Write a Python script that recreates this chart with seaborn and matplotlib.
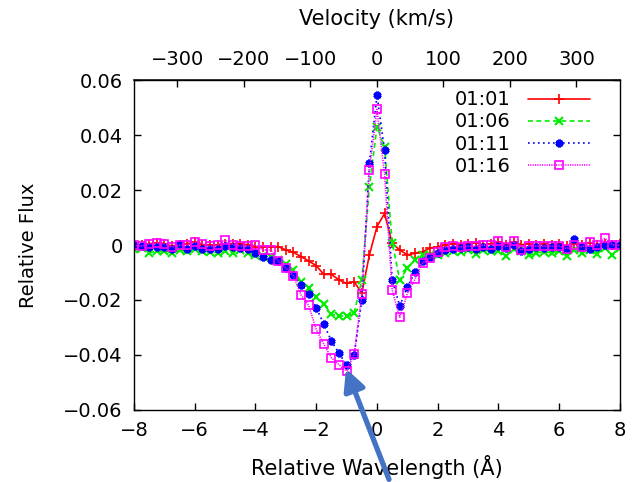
import numpy as np
import pandas as pd
import seaborn as sns
import matplotlib
matplotlib.use("Agg")
import matplotlib.pyplot as plt
from matplotlib.ticker import FuncFormatter
from matplotlib.patches import FancyArrowPatch

# relative wavelength grid (Angstrom)
wavelength = [
    -8.0, -7.75, -7.5, -7.25, -7.0, -6.75, -6.5, -6.25,
    -6.0, -5.75, -5.5, -5.25, -5.0, -4.75, -4.5, -4.25,
    -4.0, -3.75, -3.5, -3.25, -3.0, -2.75, -2.5, -2.25,
    -2.0, -1.75, -1.5, -1.25, -1.0, -0.75, -0.5, -0.25,
    0.0, 0.25, 0.5, 0.75, 1.0, 1.25, 1.5, 1.75,
    2.0, 2.25, 2.5, 2.75, 3.0, 3.25, 3.5, 3.75,
    4.0, 4.25, 4.5, 4.75, 5.0, 5.25, 5.5, 5.75,
    6.0, 6.25, 6.5, 6.75, 7.0, 7.25, 7.5, 7.75,
    8.0,
]

flux_0101 = [
    0.0001, 0.0001, 0.0005, 0.0008, 0.0005, -0.0004, 0.0001, 0.0005,
    0.0011, 0.0001, -0.0001, 0.0001, 0.0005, 0.0005, 0.0005, 0.0001,
    -0.0006, -0.0006, -0.0006, -0.0006, -0.0018, -0.0027, -0.0042, -0.0058,
    -0.0075, -0.0107, -0.0107, -0.0127, -0.0140, -0.0133, -0.0176, -0.0036,
    0.0067, 0.0115, 0.0006, -0.0018, -0.0036, -0.0030, -0.0024, -0.0012,
    -0.0006, 0.0000, 0.0005, 0.0001, 0.0005, 0.0008, 0.0001, 0.0005,
    0.0011, 0.0001, 0.0011, 0.0001, 0.0005, 0.0001, 0.0005, 0.0001,
    0.0005, -0.0004, 0.0005, 0.0001, 0.0008, 0.0001, 0.0005, 0.0001,
    0.0005,
]

flux_0106 = [
    -0.0016, -0.0011, -0.0028, -0.0023, -0.0023, -0.0028, -0.0019, -0.0023,
    -0.0013, -0.0023, -0.0025, -0.0028, -0.0023, -0.0028, -0.0019, -0.0028,
    -0.0035, -0.0040, -0.0042, -0.0055, -0.0070, -0.0091, -0.0133, -0.0158,
    -0.0188, -0.0216, -0.0252, -0.0258, -0.0258, -0.0248, -0.0127, 0.0212,
    0.0430, 0.0357, 0.0008, -0.0127, -0.0085, -0.0055, -0.0035, -0.0035,
    -0.0035, -0.0028, -0.0023, -0.0025, -0.0019, -0.0032, -0.0019, -0.0023,
    -0.0023, -0.0040, -0.0016, -0.0023, -0.0038, -0.0028, -0.0025, -0.0028,
    -0.0023, -0.0040, -0.0019, -0.0028, -0.0019, -0.0032, -0.0011, -0.0038,
    -0.0011,
]

flux_0111 = [
    -0.0001, -0.0004, -0.0007, -0.0007, -0.0007, -0.0016, 0.0005, -0.0016,
    -0.0004, -0.0016, -0.0013, -0.0016, -0.0004, -0.0007, -0.0011, -0.0013,
    -0.0030, -0.0042, -0.0055, -0.0060, -0.0085, -0.0110, -0.0145, -0.0180,
    -0.0228, -0.0288, -0.0349, -0.0394, -0.0436, -0.0400, -0.0200, 0.0297,
    0.0545, 0.0345, -0.0127, -0.0222, -0.0152, -0.0100, -0.0060, -0.0044,
    -0.0028, -0.0019, -0.0013, -0.0011, -0.0007, -0.0013, -0.0007, -0.0013,
    -0.0004, -0.0011, -0.0001, -0.0023, -0.0013, -0.0007, -0.0011, -0.0007,
    -0.0007, -0.0013, 0.0021, -0.0007, -0.0013, -0.0007, 0.0001, -0.0001,
    0.0001,
]

flux_0116 = [
    -0.0001, -0.0004, 0.0005, 0.0008, 0.0005, -0.0007, -0.0001, 0.0001,
    0.0011, 0.0005, -0.0004, -0.0001, 0.0017, 0.0001, -0.0004, -0.0004,
    0.0000, -0.0018, -0.0018, -0.0058, -0.0085, -0.0112, -0.0182, -0.0220,
    -0.0307, -0.0361, -0.0410, -0.0436, -0.0458, -0.0398, -0.0179, 0.0273,
    0.0493, 0.0257, -0.0164, -0.0263, -0.0176, -0.0125, -0.0064, -0.0048,
    -0.0025, -0.0007, -0.0004, -0.0007, -0.0004, -0.0004, -0.0001, 0.0001,
    0.0013, -0.0007, 0.0013, -0.0019, -0.0004, -0.0004, -0.0004, -0.0004,
    -0.0004, -0.0013, -0.0001, -0.0007, 0.0011, -0.0001, 0.0025, 0.0001,
    -0.0001,
]

labels = ["01:01", "01:06", "01:11", "01:16"]
x_ticks = [-8, -6, -4, -2, 0, 2, 4, 6, 8]
y_ticks = [-0.06, -0.04, -0.02, 0, 0.02, 0.04, 0.06]
v_ticks = [-300, -200, -100, 0, 100, 200, 300]

# H-alpha rest wavelength, speed of light
LAMBDA0 = 6563.0
C_KMS = 299792.458

sns.set_theme(style="ticks")
plt.rcParams["font.family"] = ["DejaVu Sans"]
plt.rcParams["axes.unicode_minus"] = True
for key in ["text.color", "axes.labelcolor", "xtick.color", "ytick.color"]:
    plt.rcParams[key] = "black"

fig = plt.figure(figsize=(6.32, 4.82), dpi=100)
ax = fig.add_axes([0.212, 0.1494, 0.769, 0.6846])

df = pd.DataFrame({"wl": wavelength})
series = [flux_0101, flux_0106, flux_0111, flux_0116]
styles = [
    dict(color="#ff0000", marker="+", ls="-", ms=7, mew=1.2, mfc="#ff0000"),
    dict(color="#00ee00", marker="x", ls=(0, (3, 2)), ms=5.5, mew=1.5, mfc="#00ee00"),
    dict(color="#0000ff", marker=(6, 2, 0), ls=(0, (1, 2)), ms=5.5, mew=2.2, mfc="#0000ff"),
    dict(color="#ff00ff", marker="s", ls=(0, (0.7, 0.7)), ms=6, mew=1.2, mfc="none"),
]
for lab, vals, st in zip(labels, series, styles):
    d = df.assign(flux=vals)
    sns.lineplot(data=d, x="wl", y="flux", ax=ax, label=lab, linewidth=1.2,
                 color=st["color"], errorbar=None)
    line = ax.lines[-1]
    line.set_linestyle(st["ls"])
    line.set_marker(st["marker"])
    line.set_markersize(st["ms"])
    line.set_markeredgewidth(st["mew"])
    line.set_markeredgecolor(st["color"])
    line.set_markerfacecolor(st["mfc"])

ax.set_xlim(-8, 8)
ax.set_ylim(-0.06, 0.06)
ax.set_xticks(x_ticks)
ax.set_yticks(y_ticks)
fmt = FuncFormatter(lambda v, p: ("%g" % v).replace("-", "\u2212"))
ax.xaxis.set_major_formatter(fmt)
ax.yaxis.set_major_formatter(fmt)
ax.tick_params(axis="both", direction="in", length=5, width=1, labelsize=14,
               colors="black", pad=8)
ax.tick_params(axis="y", right=True)
ax.tick_params(axis="x", top=False)
for sp in ax.spines.values():
    sp.set_linewidth(1.0)
    sp.set_color("black")

ax.set_xlabel("Relative Wavelength (Å)", fontsize=15, labelpad=11, color="black")
ax.set_ylabel("Relative Flux", fontsize=14, labelpad=18, color="black")

top = ax.secondary_xaxis("top", functions=(lambda w: w / LAMBDA0 * C_KMS,
                                           lambda v: v / C_KMS * LAMBDA0))
top.set_xticks(v_ticks)
top.xaxis.set_major_formatter(fmt)
top.tick_params(direction="in", length=5, width=1, labelsize=14, pad=8,
                colors="black")
top.set_xlabel("Velocity (km/s)", fontsize=15, labelpad=18, color="black")

handles = ax.lines[-4:]
ax.legend(handles, labels, loc="upper right", bbox_to_anchor=(0.966, 1.01),
          frameon=False, markerfirst=False, fontsize=14, handlelength=3.2,
          handletextpad=0.9, labelspacing=0.16, borderaxespad=0.3)

# annotation arrow pointing at the absorption minimum
arrow = FancyArrowPatch((390 / 632, 0.0), (345 / 632, 1 - 366 / 482),
                        transform=fig.transFigure, arrowstyle="-|>",
                        mutation_scale=32, linewidth=3.8, color="#4472c4")
fig.add_artist(arrow)

plt.savefig("out.png", dpi=100)
plt.close()
